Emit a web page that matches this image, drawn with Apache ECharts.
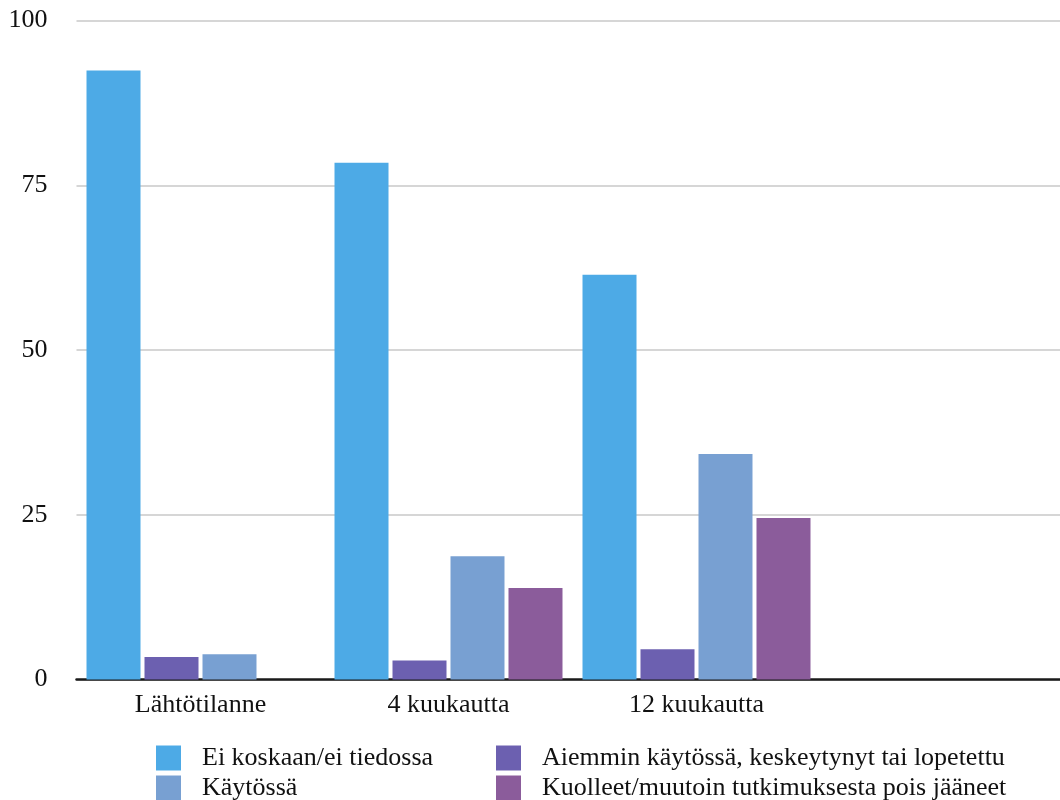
<!DOCTYPE html>
<html>
<head>
<meta charset="utf-8">
<script src="https://cdn.jsdelivr.net/npm/echarts@6/dist/echarts.min.js"></script>
<style>
  html, body { margin: 0; padding: 0; background: #ffffff; }
  #chart { width: 1060px; height: 800px; }
</style>
</head>
<body>
<div id="chart"></div>
<script>
const categories = ['Lähtötilanne', '4 kuukautta', '12 kuukautta', ''];
const seriesNames = [
  'Ei koskaan/ei tiedossa',
  'Aiemmin käytössä, keskeytynyt tai lopetettu',
  'Käytössä',
  'Kuolleet/muutoin tutkimuksesta pois jääneet'
];
const eiKoskaan = [92.4, 78.4, 61.4, null];
const aiemmin = [3.4, 2.9, 4.6, null];
const kaytossa = [3.85, 18.7, 34.2, null];
const kuolleet = [0, 13.9, 24.5, null];
const yTicks = [0, 25, 50, 75, 100];

const colors = ['#4DAAE6', '#6C60B0', '#78A0D2', '#8B5C9B'];
const values = [eiKoskaan, aiemmin, kaytossa, kuolleet];
const FONT = "'Liberation Serif', 'Times New Roman', serif";

function legendBox(names, left) {
  return {
    data: names,
    orient: 'vertical',
    left: left, top: 745,
    width: 520, height: 60,
    padding: 0,
    itemWidth: 25, itemHeight: 25, itemGap: 4,
    icon: 'rect',
    textStyle: { fontFamily: FONT, fontSize: 26, lineHeight: 25, color: '#111', padding: [0, 0, 0, 16] }
  };
}

const chart = echarts.init(document.getElementById('chart'), null, { renderer: 'canvas' });
chart.setOption({
  animation: false,
  backgroundColor: '#ffffff',
  textStyle: { fontFamily: FONT },
  grid: { left: 76.5, width: 992, top: 20.5, height: 659, containLabel: false, outerBoundsMode: 'none' },
  legend: [
    legendBox([seriesNames[0], seriesNames[2]], 156),
    legendBox([seriesNames[1], seriesNames[3]], 496)
  ],
  xAxis: {
    type: 'category',
    data: categories,
    axisLine: { show: true, lineStyle: { color: '#1a1a1a', width: 2.5 } },
    axisTick: { show: false },
    axisLabel: { fontFamily: FONT, fontSize: 26, color: '#111', margin: 13 },
    splitLine: { show: false }
  },
  yAxis: {
    type: 'value',
    min: yTicks[0], max: yTicks[yTicks.length - 1], interval: 25,
    axisLine: { show: false },
    axisTick: { show: false },
    axisLabel: { fontFamily: FONT, fontSize: 26, color: '#111', margin: 29 },
    splitLine: { show: true, lineStyle: { color: '#c8c8c8', width: 1.6 } }
  },
  series: seriesNames.map((name, i) => ({
    name: name,
    type: 'bar',
    data: values[i],
    barWidth: 54,
    barGap: '7.4%',
    itemStyle: { color: colors[i] }
  }))
});
</script>
</body>
</html>
